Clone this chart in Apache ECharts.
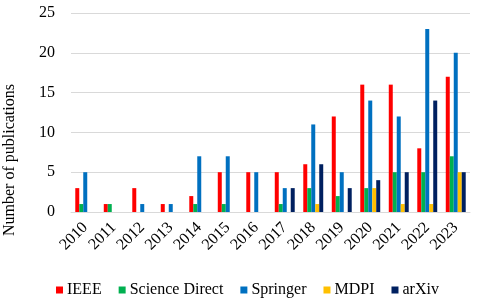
<!DOCTYPE html>
<html><head><meta charset="utf-8">
<script src="https://cdn.jsdelivr.net/npm/echarts@6/dist/echarts.min.js"></script>
<style>html,body{margin:0;padding:0;background:#fff}#c{width:480px;height:300px}</style>
</head><body><div id="c"></div>
<script>
const years = ['2010','2011','2012','2013','2014','2015','2016','2017','2018','2019','2020','2021','2022','2023'];
const ieee = [3,1,3,1,2,5,5,5,6,12,16,16,8,17];
const scienceDirect = [1,1,0,0,1,1,0,1,3,2,3,5,5,7];
const springer = [5,0,1,1,7,7,5,3,11,5,14,12,23,20];
const mdpi = [0,0,0,0,0,0,0,0,1,0,3,1,1,5];
const arxiv = [0,0,0,0,0,0,0,3,6,3,4,5,14,5];
const yTicks = [0,5,10,15,20,25];
const yTitle = 'Number of publications';

const font = '"Liberation Serif","Times New Roman",serif';
const names = ['IEEE','Science Direct','Springer','MDPI','arXiv'];
const colors = ['#FF0000','#00B050','#0070C0','#FFC000','#002060'];
const datas = [ieee, scienceDirect, springer, mdpi, arxiv];

const chart = echarts.init(document.getElementById('c'));
chart.setOption({
  animation: false,
  textStyle: {fontFamily: font},
  grid: {left: 71, right: 10, top: 13, bottom: 88},
  legend: {
    top: 277, left: 51, itemWidth: 7, itemHeight: 7, itemGap: 17,
    icon: 'rect',
    textStyle: {fontFamily: font, fontSize: 16, color: '#000', padding: [0,0,0,-1]},
    data: names
  },
  graphic: [{
    type: 'text', x: 2, y: 236, rotation: Math.PI / 2,
    style: {text: yTitle, font: '16px "Liberation Serif","Times New Roman",serif', fill: '#000',
      textAlign: 'left', textVerticalAlign: 'top'}
  }],
  xAxis: {
    type: 'category', data: years,
    axisLine: {lineStyle: {color: '#D9D9D9'}},
    axisTick: {show: false},
    axisLabel: {rotate: 45, fontFamily: font, fontSize: 16, color: '#000', interval: 0, margin: 13}
  },
  yAxis: {
    type: 'value', min: yTicks[0], max: yTicks[yTicks.length-1], interval: 5,
    axisLine: {show: false}, axisTick: {show: false},
    axisLabel: {fontFamily: font, fontSize: 16, color: '#000', margin: 16},
    splitLine: {lineStyle: {color: '#D9D9D9'}}
  },
  series: names.map((n, i) => ({
    name: n, type: 'bar', data: datas[i],
    barGap: '0%', barCategoryGap: '30%',
    itemStyle: {color: colors[i]}
  }))
});
</script></body></html>
